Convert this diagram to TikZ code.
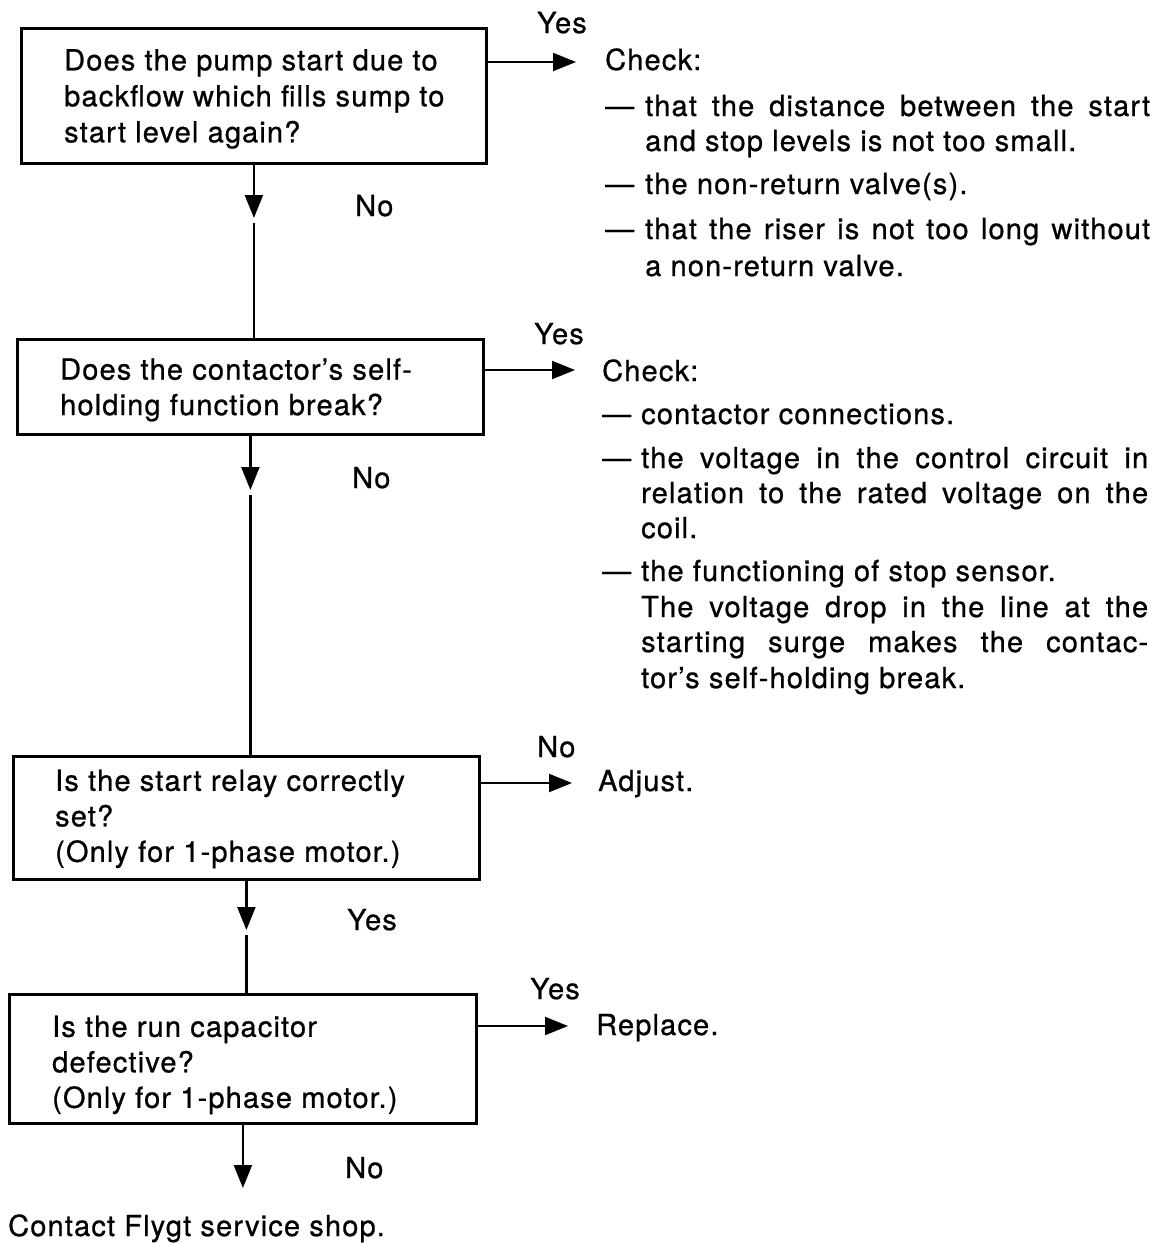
\documentclass[tikz,border=0pt]{standalone}
\usepackage{fontspec}
\setmainfont{TeX Gyre Heros}[LetterSpace=4,FakeBold=0.8]
\usetikzlibrary{arrows.meta}
\begin{document}
\begin{tikzpicture}[x=1pt,y=-1pt,
  every node/.style={font=\fontsize{29}{35.5}\selectfont, inner sep=0pt},
  qbox/.style={draw, line width=2.8pt, anchor=north west},
  qtext/.style={anchor=west, align=left},
  txt/.style={anchor=base west},
  flow/.style={line width=2.2pt},
  tip/.style={-{Triangle[length=23pt,width=18pt]}, line width=2.2pt}
]
\useasboundingbox (0,0) rectangle (1160,1243);

% question boxes
\node[qbox, minimum width=465pt, minimum height=135pt] (q1) at (20,27) {};
\node[qbox, minimum width=466pt, minimum height=95pt] (q2) at (16,338) {};
\node[qbox, minimum width=466pt, minimum height=123pt] (q3) at (12,755) {};
\node[qbox, minimum width=467pt, minimum height=129pt] (q4) at (8,993) {};

% question texts
\node[qtext, font=\fontsize{29}{36}\selectfont] (t1) at ([xshift=44pt,yshift=-3pt]q1.west)
  {Does the pump start due to\\backflow which fills sump to\\start level again?};
\node[qtext] (t2) at ([xshift=44pt,yshift=-3pt]q2.west)
  {Does the contactor's self-\\holding function break?};
\node[qtext] (t3) at ([xshift=43pt,yshift=-1pt]q3.west)
  {Is the start relay correctly\\set?\\(Only for 1-phase motor.)};
\node[qtext] (t4) at ([xshift=44pt,yshift=-6pt]q4.west)
  {Is the run capacitor\\defective?\\(Only for 1-phase motor.)};
\node[txt] (shop) at (8,1236) {Contact Flygt service shop.};

% side arrow ends
\coordinate (r1) at (576,62);
\coordinate (r2) at (575,370);
\coordinate (r3) at (572,783);
\coordinate (r4) at (568,1026);

\draw[tip] (q1.east |- r1) -- (r1);
\draw[tip] (q2.east |- r2) -- (r2);
\draw[tip] (q3.east |- r3) -- (r3);
\draw[tip] (q4.east |- r4) -- (r4);

% downward arrow tips and line restarts
\coordinate (h1) at (0,218); \coordinate (g1) at (0,223);
\coordinate (h2) at (0,490); \coordinate (g2) at (0,495);
\coordinate (h3) at (0,930); \coordinate (g3) at (0,935);
\coordinate (h4) at (0,1188);

\draw[tip] (q1.south) -- (q1.south |- h1);
\draw[flow] (q1.south |- g1) -- (q1.south |- q2.north);
\draw[tip] (q2.south) -- (q2.south |- h2);
\draw[flow] (q2.south |- g2) -- (q2.south |- q3.north);
\draw[tip] (q3.south) -- (q3.south |- h3);
\draw[flow] (q3.south |- g3) -- (q3.south |- q4.north);
\draw[tip] (q4.south) -- (q4.south |- h4);

% branch labels
\node[txt] (y1) at (537,33) {Yes};
\node[txt] (n1) at (355,216) {No};
\node[txt] (y2) at (534,344) {Yes};
\node[txt] (n2) at (352,488) {No};
\node[txt] (n3) at (537,757) {No};
\node[txt] (y3) at (347,930) {Yes};
\node[txt] (y4) at (530,999) {Yes};
\node[txt] (n4) at (345,1178) {No};

% actions
\node[txt] (adj) at (598,791) {Adjust.};
\node[txt] (rep) at (596,1035) {Replace.};

% first check list
\node[txt] (c1) at (605,70) {Check:};
\node[txt] at (605,116) {\textemdash};
\node[txt] at (645,116) {\makebox[505pt][s]{that the distance between the start}};
\node[txt] at (645,151) {and stop levels is not too small.};
\node[txt] at (605,194) {\textemdash};
\node[txt] at (645,194) {the non-return valve(s).};
\node[txt] at (605,239) {\textemdash};
\node[txt] at (645,239) {\makebox[505pt][s]{that the riser is not too long without}};
\node[txt] at (645,276) {a non-return valve.};

% second check list
\node[txt] (c2) at (602,381) {Check:};
\node[txt] at (602,424) {\textemdash};
\node[txt] at (641,424) {contactor connections.};
\node[txt] at (602,468) {\textemdash};
\node[txt] at (641,468) {\makebox[507pt][s]{the voltage in the control circuit in}};
\node[txt] at (641,503) {\makebox[507pt][s]{relation to the rated voltage on the}};
\node[txt] at (641,538) {coil.};
\node[txt] at (602,581) {\textemdash};
\node[txt] at (641,581) {the functioning of stop sensor.};
\node[txt] at (641,617) {\makebox[507pt][s]{The voltage drop in the line at the}};
\node[txt] at (641,652) {\makebox[507pt][s]{starting surge makes the contac-}};
\node[txt] at (641,688) {tor's self-holding break.};
\end{tikzpicture}
\end{document}
